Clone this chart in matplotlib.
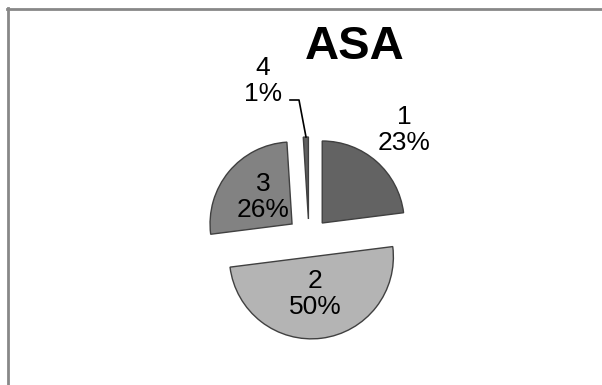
import matplotlib.pyplot as plt
from matplotlib.lines import Line2D

plt.rcParams['font.family'] = ['Liberation Sans', 'DejaVu Sans']

# ==================== data ====================
categories = ['1', '2', '3', '4']
shares = [23, 50, 26, 1]
colors = ['#636363', '#b4b4b4', '#828282', '#606060']
explode_px = [20, 19, 22, 19]   # offset of each slice, in pixels

W, H = 602, 385
fig = plt.figure(figsize=(W / 100, H / 100), dpi=100)
ax = fig.add_axes([0, 0, 1, 1])

# pie in pixel coordinates (y up); matplotlib's explode is in data units
cx, cy, r = 309, H - 238, 82
wedges, _ = ax.pie(shares, explode=explode_px, colors=colors, startangle=90,
                   counterclock=False, center=(cx, cy), radius=r,
                   wedgeprops=dict(edgecolor='#404040', linewidth=1.0))
ax.set_xlim(0, W)
ax.set_ylim(0, H)
ax.set_aspect('equal')
ax.axis('off')

# data labels
label_pos = {'1': (404, 130), '2': (315, 294), '3': (263, 197), '4': (263, 81)}
for cat, val in zip(categories, shares):
    x, y = label_pos[cat]
    ax.text(x, H - y, f'{cat}\n{val}%', ha='center', va='center',
            fontsize=19, linespacing=1.1, color='black')

# leader line for the tiny slice
ax.plot([290, 299, 306], [H - 100, H - 100, H - 137], color='black', lw=1.2)

# title
ax.text(355, H - 47, 'ASA', ha='center', va='center', fontsize=34,
        fontweight='bold', color='black')

# partial frame (top and left only)
fig.add_artist(Line2D([8 / W, 8 / W], [0, 1 - 8 / H], transform=fig.transFigure,
                      color='#888888', lw=2))
fig.add_artist(Line2D([7 / W, 1], [1 - 9 / H, 1 - 9 / H], transform=fig.transFigure,
                      color='#888888', lw=2))

plt.savefig('out.png', dpi=100)
plt.close()
